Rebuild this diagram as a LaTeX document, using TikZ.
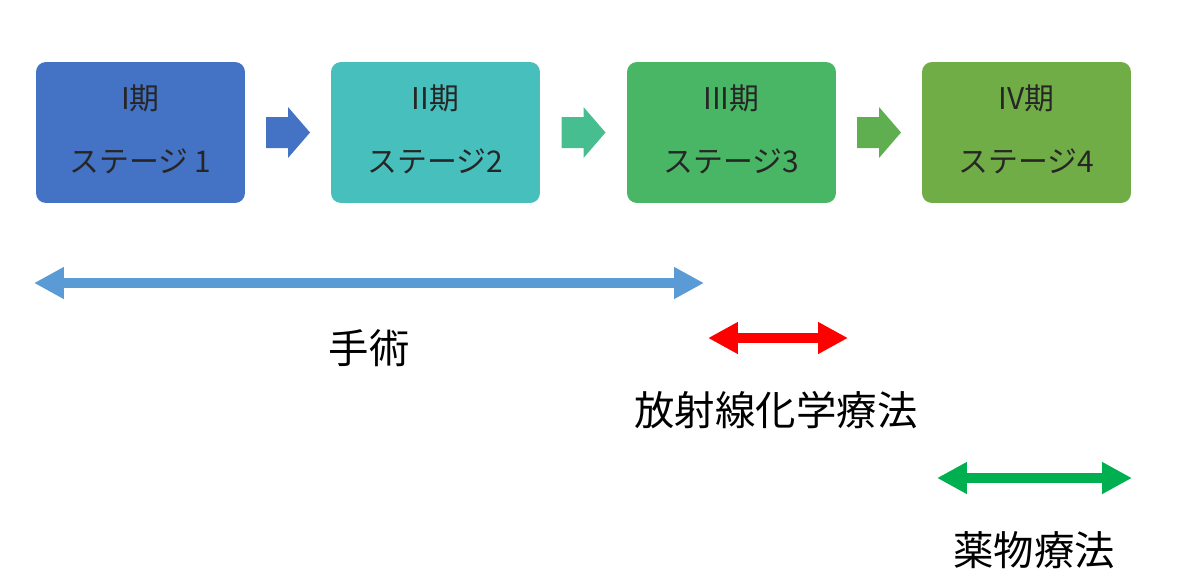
\documentclass[tikz,border=0pt]{standalone}
\usepackage{fontspec}
\setmainfont{Noto Sans CJK JP}
\usetikzlibrary{arrows.meta,calc}
\definecolor{cA}{HTML}{4472C4}
\definecolor{cB}{HTML}{47C0BD}
\definecolor{cC}{HTML}{48B664}
\definecolor{cD}{HTML}{70AD47}
\definecolor{aA}{HTML}{4472C4}
\definecolor{aB}{HTML}{46BE8F}
\definecolor{aC}{HTML}{5FAE4F}
\definecolor{longblue}{HTML}{5B9BD5}
\definecolor{redarr}{HTML}{FF0000}
\definecolor{greenarr}{HTML}{00B050}
\definecolor{txt}{HTML}{262626}
\begin{document}
\begin{tikzpicture}[x=0.02cm,y=-0.02cm,
  stagebox/.style={rectangle,rounded corners=0.2cm,minimum width=4.18cm,minimum height=2.82cm,inner sep=0pt,draw=none},
  boxtext/.style={font=\fontsize{17pt}{20pt}\selectfont,text=txt,inner sep=0pt},
  labeltext/.style={font=\fontsize{23pt}{27pt}\selectfont,text=black,inner sep=0pt},
  dbl/.style={line width=6.2pt,{Triangle[length=17pt,width=17pt]}-{Triangle[length=17pt,width=17pt]}},
  chev/.pic={\fill (-22,-15.5) -- (0,-15.5) -- (0,-25.5) -- (22,0) -- (0,25.5) -- (0,15.5) -- (-22,15.5) -- cycle;}
]
\useasboundingbox (0,0) rectangle (1183,586);
% stage boxes
\node[stagebox,fill=cA] (b1) at (140.5,132.5) {};
\node[stagebox,fill=cB] (b2) at (435.5,132.5) {};
\node[stagebox,fill=cC] (b3) at (731.5,132.5) {};
\node[stagebox,fill=cD] (b4) at (1026.5,132.5) {};
% box texts
\node[boxtext] (t1a) at ($(b1.center)+(0,-34)$) {I期};
\node[boxtext] (t1b) at ($(b1.center)+(0,29)$) {ステージ 1};
\node[boxtext] (t2a) at ($(b2.center)+(0,-34)$) {II期};
\node[boxtext] (t2b) at ($(b2.center)+(0,29)$) {ステージ2};
\node[boxtext] (t3a) at ($(b3.center)+(0,-34)$) {III期};
\node[boxtext] (t3b) at ($(b3.center)+(0,29)$) {ステージ3};
\node[boxtext] (t4a) at ($(b4.center)+(0,-34)$) {IV期};
\node[boxtext] (t4b) at ($(b4.center)+(0,29)$) {ステージ4};
% chevron arrows between boxes
\coordinate (m12) at ($(b1.east)!0.5!(b2.west)$);
\coordinate (m23) at ($(b2.east)!0.5!(b3.west)$);
\coordinate (m34) at ($(b3.east)!0.5!(b4.west)$);
\pic[fill=aA] at (m12) {chev};
\pic[fill=aB] at (m23) {chev};
\pic[fill=aC] at (m34) {chev};
% treatment ranges
\coordinate (s1) at (34,283);
\coordinate (s2) at (704,283);
\draw[dbl,draw=longblue,fill=longblue] (s1) -- (s2);
\node[labeltext] (lsurg) at (369,348) {手術};
\coordinate (r1) at (708,338);
\coordinate (r2) at (848,338);
\draw[dbl,draw=redarr,fill=redarr] (r1) -- (r2);
\node[labeltext] (lrad) at (776,410) {放射線化学療法};
\coordinate (g1) at (937,478);
\coordinate (g2) at (1132,478);
\draw[dbl,draw=greenarr,fill=greenarr] (g1) -- (g2);
\node[labeltext] (ldrug) at (1034,550) {薬物療法};
\end{tikzpicture}
\end{document}
